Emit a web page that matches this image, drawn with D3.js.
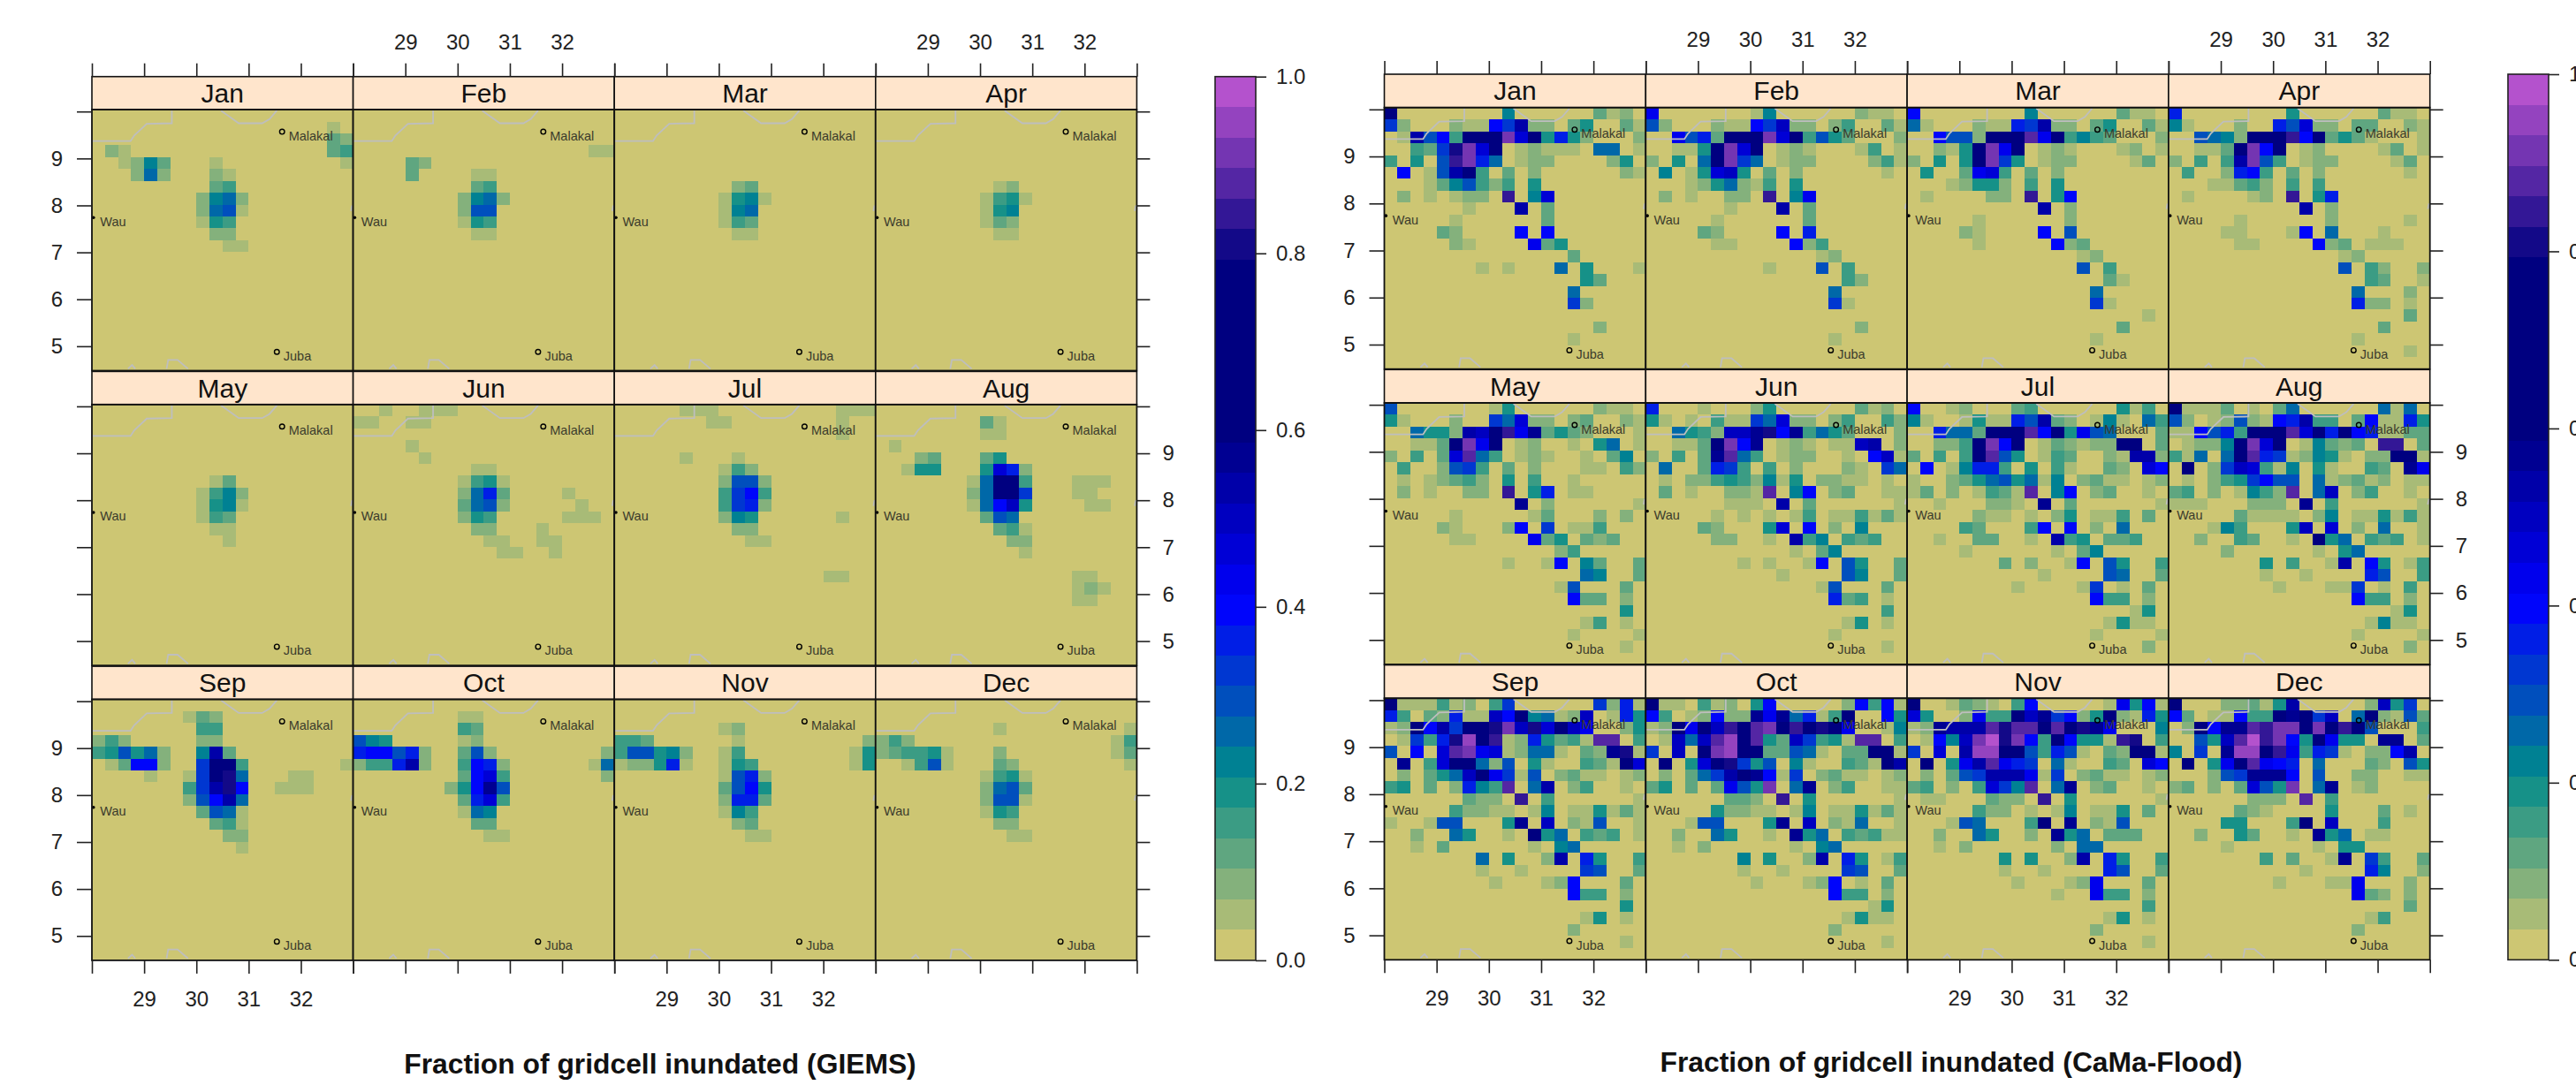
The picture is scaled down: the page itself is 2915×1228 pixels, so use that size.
<!DOCTYPE html>
<html>
<head>
<meta charset="utf-8">
<script src="https://d3js.org/d3.v7.min.js"></script>
<style>
body { margin: 0; background: white; }
svg { display: block; font-family: "Liberation Sans", Arial, sans-serif; }
</style>
</head>
<body>
<div id="chart"></div>
<script>

var months = ["Jan","Feb","Mar","Apr","May","Jun","Jul","Aug","Sep","Oct","Nov","Dec"]
var lonTicks = [28,29,30,31,32,33]
var lonLabels = [29,30,31,32]
var latTicks = [5,6,7,8,9,10]
var latLabels = [5,6,7,8,9]
var legendTicks = [0,0.2,0.4,0.6,0.8,1]

// colour ramp of the legend, sampled into 29 levels
var rampStops = [0,0.2,0.4,0.6,0.8,1]
var rampColors = ["#CDC673","#008B8B","#0000FF","#000080","#000080","#B452CD"]
var nLevels = 29

// each row is one 0.25 degree band of latitude, north first, each char one cell
// "." is level 0, 1-9 a-h are levels 1-17, i-n are levels 23-28
var giemsJan = ["","..................1.","..................32",".21...............34","..1263...1.........1","...272...21.........",".........34.........","........2672........","........2781........","........154.........",".........22.........","..........11........"]
var giemsFeb = ["","","","..................11","....32..............","....3....11.........",".........34.........","........2672........","........288.........","........154.........",".........11........."]
var giemsMar = ["","","","","","",".........23.........","........1561........","........167.........","........143.........",".........11........."]
var giemsApr = ["","","","","","",".........12.........","........1451........","........156.........","........132.........",".........11........."]
var giemsMay = ["","","","","","",".........13.........","........1462........","........1561........","........143.........",".........11.........","..........1........."]
var giemsJun = ["..1..111............","11..11..............","","....1...............",".....1..............",".........11.........","........1451........","........27a3....1...","........3782.....1..","........254.....111.",".........22...1.....","..........11..11....","...........11..1...."]
var giemsJul = [".....111.........111",".......11........1..",".................1..","",".....1...1..........","........142.........","........2882........","........49b4........","........49a2........","........265......1..",".........22.........","..........11........","","","................11.."]
var giemsAug = ["","........31..........","........11..........",".1..................","...23...35..........","..155...5da2........",".......17hh4...111..",".......27hh9...11...",".......17be5....11..","........387.........",".........341........","..........22........","...........1........","","...............11...","...............121..","...............11..."]
var giemsSep = ["",".......132..........","........44..........","242.....22..........","458572..6f3.........",".13bb2..9hh4.......1","....1..19hi7...11...",".......49fib..111...",".......28bf7........","........3871........",".........341........","..........22........","...........1........"]
var giemsOct = ["","........11..........","........43..........","865.....12..........","abb8a2..382........2","244af2..4ba2......17","........3bd4.......2",".......25bg8........","........3ad4........","........176.........",".........33.........","..........11........"]
var giemsNov = ["","","........12..........","443......1.........2","488562..14........15","1225a1..154.......15","........18a2........","........38b5........","........2aa3........","........164.........",".........23.........","..........11........"]
var giemsDec = ["","",".........1.........1","242...............14","234451...2........13","..1481...32........1","........1451........","........2783........","........2881........","........154.........",".........22.........","..........11........"]

var camaJan = ["h........6......312.","92...211b9f22.35..31",".1f8b4hhhldh5a52...2","..439ildh.12111.77.1","4.5.8jla7.122....25.",".b.18fh4.3.2......21","...1368424.5........",".2.1.122.j.6d.......","......1...f.3.......",".....1......3.......","....32....b.b.......",".....21....c35......","..............3.....",".......1.1...7.5...1","...............53...","..............7.....","..............92....","","................2...","..............1....."]
var camaFeb = ["c.......16......211.","82...211b9e22.24..31","..c8a3hhhldh4853...2","..115hldh.121...14.1","2.5.7hl97.122....241",".6.15de5.3.2......1.","...1257214.5........",".2.1..22.j.6c.......","......1...f.3.......",".....1......3.......","....32....b.a.......",".....11....b24......",".............12.....",".........1...8.4....","...............42...","..............7.....","..............91....","","................2...","..............1....."]
var camaMar = ["b........6......311.","71...211a9f22.35..31","..b882hhhkch4643...2","..215hlch.121...12.1","2.5.5hl95.122....13.",".5..3cd4.3.2........","...12552.4.5........",".1....22.j.5b.......","..........f.2.......",".....1......2.......","....21....b.8.......",".....1.....b23......",".............12.....",".............8.4....","...............31...","..............7.....","..............91....","..................1.","................3...","..............1....."]
var camaApr = ["a........5......311.","61...2..a8d22.33..21","..8762hhhjbh3531...1","..113hlbh.12....13.1","2.4.4fl84.122....13.",".4..2ab4.3.2......1.","...11342.4.4........",".1....12.j.5a.......","..........f.2.......",".....1......2.....1.","....11...1b.7...1...",".....11....b23.111..",".............12.....",".............8.42..2","...............43..1","..............7...2.","..............a22.1.","..................3.","................3...","..............1.....","..................1."]
var camaMay = ["8.......15......211.","51...2..97d22.23..21","..7552fehjcg3532...1","..113hlch.12..1.57.1","2.4.3dk74.121..1.36.",".4..2894.3.2...11.42",".1.12342.5.4..1.....",".2.1..22.j.5a.11....","..........g.2......1",".....1.....13...2.2.","....21...2b.9.114...",".....11....c35.323..",".............24.....",".........1..1b.63..3","...............76..3",".............18...3.","..............b33.2.","..................5.","...............14.1.","..............1....1","..................1."]
var camaJun = ["a...1...25......312.","51.1.41197d22.24..42","..7542eegibg4753...2","..113hlbg.121.11ef.2","2.4.3gk74.122..1.be1",".7..3a94.4.2...21.97",".1.224542615.2211.1.",".3.1..221k.6b.23..11","......111.f.3......1",".....1.1.1.14.114131","....32...5d.b.2.6...",".....22..1.f46.434..","...........1.36.....",".......1.1..1b.85..3","..........1....86..3",".............18...3.","..............a34.1.","..................4.","...............15.1.","..............1.....","..................1."]
var camaJul = ["b..12...34......514.","61..1511a8f32.161.74","..a773hhhkbh5c87...3","..224hlbh.132122hh.3","3.4.4hk85.143..21ff2",".b.16aa4.5.41..32.db","1..235785716.2311.12","13.2.1431k.6b.23..1.","..1...221.g.3......1",".....211.1.25.114.3.","....43...4b.b.2.7...","..1..33..1.f45.334..","....1......1.36.....",".......3.2..1b.85..4","..........1....87..3","........1....19.1.3.","..............b44.2.",".................15.","...............1511.","..............1....1","..................2."]
var camaAug = ["h1113.1.37......717.","82.12821baf44.3b11a5","11b8a4hhhkdhahba1133",".1226hldh.16323.jj.3","417.7hka912651.22hh1",".h.29ed416.51..43.gc",".1.2459b88.712312.11","34.2.1642k.7e.24..1.","111...222.g.4......1",".....31111.26.115141","...164...5e.d.2.7..1","..2..43..1.h57.434.1","....2......1.57.....",".......5.4..1f.b5.14",".......1..1....a8..4","........1...119.1.4.","..............b44.2.",".................15.","...............1611.","..............1....1","..................2."]
var camaSep = ["h111412.49......92a1","a4.32a11ebh6712e.1a5","12hbf9hhileidhec..25",".194aimhj12a5341kk.4","8.b.dklcd12771.32gi1",".g.4dhh728.51..431hd",".2.357ehc918.2311.12","45.3.2a64k.7f.24..1.","......322.j.4......1",".....42211.16.115131","1..188...5g.e.218..1","..2..75..1.h57.434.1","..1.3......1.67.....",".......7.5..2f.a5..4",".......1..1....98..3","........1...12b...3.","..............b44.2.","..................5.","...............15.1.","..............2.....","..................1."]
var camaOct = ["h11.412.5b.....2b4b1","b4.12b22gcg7a14h..b5","12hchejhklhjhihc..16",".1e7ekmhk53e9451kk.4","9.e.hlmhh33871.33hh1",".h.5dhi958.61..431hf",".2.379fhgb19.2311.12","35.3.3c85l.7g.24..11","......332.j.5......1",".....52211.16.115131","...188...5g.e.217..1","..2..75..1.g57.43411","..1.2......1.67.....",".......6.5..2f.a5.14",".......1..1....98..3","........1...12b.1.3.","..............b44.2.",".................15.","...............1511.","..............2.....","..................1."]
var camaNov = ["h..1321.4b.....1c5b1","d5..2c44heg9b25h21a5","12gfffkikkhkhigc...6",".1b6elnilb4hb551ji.4","9.d.fmmhh84a81.32hh1",".h.5cfkca9.71..43.db",".2.389fffc19.2311.12","34.2.4d96k.7g.23..1.",".11...322.j.5......1",".....422.1.16.115.3.","...187...4h.g.218...","..2..75..2.g57.333..","..1.2......2.77.....",".......5.5..2f.a5..4",".......1..1....a8..3","........1...12c...3.","...........1..c44.2.","..................4.","...............15.1.","..............2.....","..................1."]
var camaDec = ["h...22315f.....2e59.","b3.11b44hgh9e.7h2183",".2hbggkjllhlhjh8...4","..85eknjlb5hc55.gg.3","6.9.gmmhjc4a91.22bf.",".h.5chkcba.7...32.85","...289gggb.8..22..11","23.2.3d85l.7g.12....","......222.k.4.......",".....321....5...3.1.","....55...4h.e...4...","..2..53..1.g57.11...","....1......1.55.....",".......4.3..1g.94..3","..........1....a6..2","........1...11c...2.","..............c32.2.","..................3.","...............14...","..............2....."]

var giems = [giemsJan,giemsFeb,giemsMar,giemsApr,giemsMay,giemsJun,giemsJul,giemsAug,giemsSep,giemsOct,giemsNov,giemsDec]
var cama = [camaJan,camaFeb,camaMar,camaApr,camaMay,camaJun,camaJul,camaAug,camaSep,camaOct,camaNov,camaDec]

// cities and country border pieces, lon/lat
var cityNames = ["Malakal","Wau","Juba"]
var cityLon = [31.64,28.03,31.54]
var cityLat = [9.57,7.74,4.88]
var borderNorthWest = [[28,9.37],[28.74,9.37],[28.81,9.49],[29.05,9.74],[29.53,9.75],[29.53,10.02]]
var borderNorthEast = [[30.47,10.02],[30.81,9.75],[31.26,9.75],[31.4,9.84],[31.54,10.02]]
var borderSouthA = [[29.43,4.52],[29.46,4.71],[29.64,4.71],[29.84,4.52]]
var borderSouthB = [[28.69,4.52],[28.77,4.6],[28.83,4.52]]
var borderEast = [[32.98,8.0],[32.96,7.88]]
var borders = [borderNorthWest,borderNorthEast,borderSouthA,borderSouthB,borderEast]

var svgWidth = 2915
var svgHeight = 1228
var lonMin = 28, lonMax = 33, latMin = 4.48, latMax = 10.04
var cellLon = 0.25
var cellLat = (latMax-latMin)/22

var svg = d3.select("#chart").append("svg")
            .attr("width", svgWidth)
            .attr("height", svgHeight)

var ramp = d3.scaleLinear().domain(rampStops).range(rampColors)

function levelOf(c){
	var i = ".123456789abcdefgh".indexOf(c)
	return i >= 0 ? i : 23 + "ijklmn".indexOf(c)
}

function colorOfLevel(l){
	return ramp(l/(nLevels-1))
}

function styleAxis(g){
	g.select(".domain").remove()
	g.selectAll("line").style("stroke","#222").style("stroke-width",1.6)
	g.selectAll("text").style("font-size","24px").style("font-family","inherit").style("fill","#222")
}

function drawBlock(block){
	var panelW = block.panelW, panelH = block.panelH
	var root = svg.append("g")

	block.data.forEach(function(rows,m){
		var col = m%4, row = Math.floor(m/4)
		var left = block.x0 + col*panelW
		var stripTop = block.y0 + row*block.pitch
		var top = stripTop + block.stripH

		var x = d3.scaleLinear().domain([lonMin,lonMax]).range([left,left+panelW])
		var y = d3.scaleLinear().domain([latMin,latMax]).range([top+panelH,top])

		root.append("rect")
			.attr("x",left).attr("y",stripTop)
			.attr("width",panelW).attr("height",block.stripH)
			.style("fill","#FFE5CC")
		root.append("text")
			.attr("x",left+panelW/2).attr("y",stripTop+block.stripH/2+10.5)
			.attr("text-anchor","middle")
			.style("font-size","30px").style("fill","#111")
			.text(months[m])

		root.append("rect")
			.attr("x",left).attr("y",top)
			.attr("width",panelW).attr("height",panelH)
			.style("fill",colorOfLevel(0))

		var cells = []
		rows.forEach(function(s,r){
			s.split("").forEach(function(c,k){
				if(c != ".") cells.push({lon:lonMin+k*cellLon, lat:latMax-r*cellLat, level:levelOf(c)})
			})
		})
		root.append("g").selectAll("rect").data(cells).enter().append("rect")
			.attr("x",function(d){ return x(d.lon) })
			.attr("y",function(d){ return y(d.lat) })
			.attr("width",x(lonMin+cellLon)-x(lonMin))
			.attr("height",y(latMax-cellLat)-y(latMax))
			.attr("shape-rendering","crispEdges")
			.style("fill",function(d){ return colorOfLevel(d.level) })

		var line = d3.line().x(function(d){ return x(d[0]) }).y(function(d){ return y(d[1]) })
		borders.forEach(function(b){
			root.append("path").attr("d",line(b))
				.style("fill","none").style("stroke","#BEBEBE").style("stroke-width",1.8)
		})

		cityNames.forEach(function(name,i){
			var cx = x(cityLon[i]), cy = y(cityLat[i])
			if(name == "Wau"){
				root.append("circle").attr("cx",cx).attr("cy",cy).attr("r",1.8).style("fill","#000")
			}else{
				root.append("circle").attr("cx",cx).attr("cy",cy).attr("r",2.8)
					.style("fill","none").style("stroke","#000").style("stroke-width",1.4)
			}
			root.append("text").attr("x",cx+7.5).attr("y",cy+9.5)
				.style("font-size","14.5px").style("fill","#3b3b2c")
				.text(name)
		})

		root.append("rect")
			.attr("x",left).attr("y",top)
			.attr("width",panelW).attr("height",panelH)
			.style("fill","none").style("stroke","#111").style("stroke-width",1.8)
		root.append("rect")
			.attr("x",left).attr("y",stripTop)
			.attr("width",panelW).attr("height",block.stripH)
			.style("fill","none").style("stroke","#111").style("stroke-width",1.6)

		var lonFmt = function(on){ return function(d){ return on && lonLabels.indexOf(d) >= 0 ? d : "" } }
		var latFmt = function(on){ return function(d){ return on && latLabels.indexOf(d) >= 0 ? d : "" } }

		if(row == 0){
			root.append("g").attr("transform","translate(0,"+stripTop+")")
				.call(d3.axisTop(x).tickValues(lonTicks).tickSize(15).tickPadding(16).tickFormat(lonFmt(col%2 == 1)))
				.call(styleAxis)
		}
		if(row == 2){
			root.append("g").attr("transform","translate(0,"+(top+panelH)+")")
				.call(d3.axisBottom(x).tickValues(lonTicks).tickSize(15).tickPadding(20).tickFormat(lonFmt(col%2 == 0)))
				.call(styleAxis)
		}
		if(col == 0){
			root.append("g").attr("transform","translate("+left+",0)")
				.call(d3.axisLeft(y).tickValues(latTicks).tickSize(17).tickPadding(16).tickFormat(latFmt(row != 1)))
				.call(styleAxis)
		}
		if(col == 3){
			root.append("g").attr("transform","translate("+(left+panelW)+",0)")
				.call(d3.axisRight(y).tickValues(latTicks).tickSize(15).tickPadding(14).tickFormat(latFmt(row == 1)))
				.call(styleAxis)
		}
	})

	// legend bar
	var barTop = block.y0
	var barBottom = block.y0 + 2*block.pitch + block.stripH + panelH
	var v = d3.scaleLinear().domain([0,1]).range([barBottom,barTop])
	var levels = d3.range(nLevels)
	root.append("g").selectAll("rect").data(levels).enter().append("rect")
		.attr("x",block.barX)
		.attr("y",function(l){ return v((l+1)/nLevels) })
		.attr("width",block.barW)
		.attr("height",function(l){ return v(l/nLevels)-v((l+1)/nLevels) })
		.attr("shape-rendering","crispEdges")
		.style("fill",colorOfLevel)
	root.append("rect")
		.attr("x",block.barX).attr("y",barTop)
		.attr("width",block.barW).attr("height",barBottom-barTop)
		.style("fill","none").style("stroke","#222").style("stroke-width",1.6)
	root.append("g").attr("transform","translate("+(block.barX+block.barW)+",0)")
		.call(d3.axisRight(v).tickValues(legendTicks).tickSize(12).tickPadding(11).tickFormat(d3.format(".1f")))
		.call(styleAxis)

	root.append("text")
		.attr("x",block.titleX).attr("y",block.titleY)
		.attr("text-anchor","middle")
		.style("font-size","31.8px").style("font-weight","bold").style("fill","#111")
		.text(block.title)
}

drawBlock({data:giems, x0:104, y0:86.7, pitch:333.7, stripH:37.4, panelW:295.6, panelH:295.4,
	barX:1375, barW:46, titleX:747, titleY:1215, title:"Fraction of gridcell inundated (GIEMS)"})
drawBlock({data:cama, x0:1566.5, y0:84, pitch:334.3, stripH:37.7, panelW:295.8, panelH:296,
	barX:2838, barW:46, titleX:2208, titleY:1213, title:"Fraction of gridcell inundated (CaMa-Flood)"})

</script>
</body>
</html>
